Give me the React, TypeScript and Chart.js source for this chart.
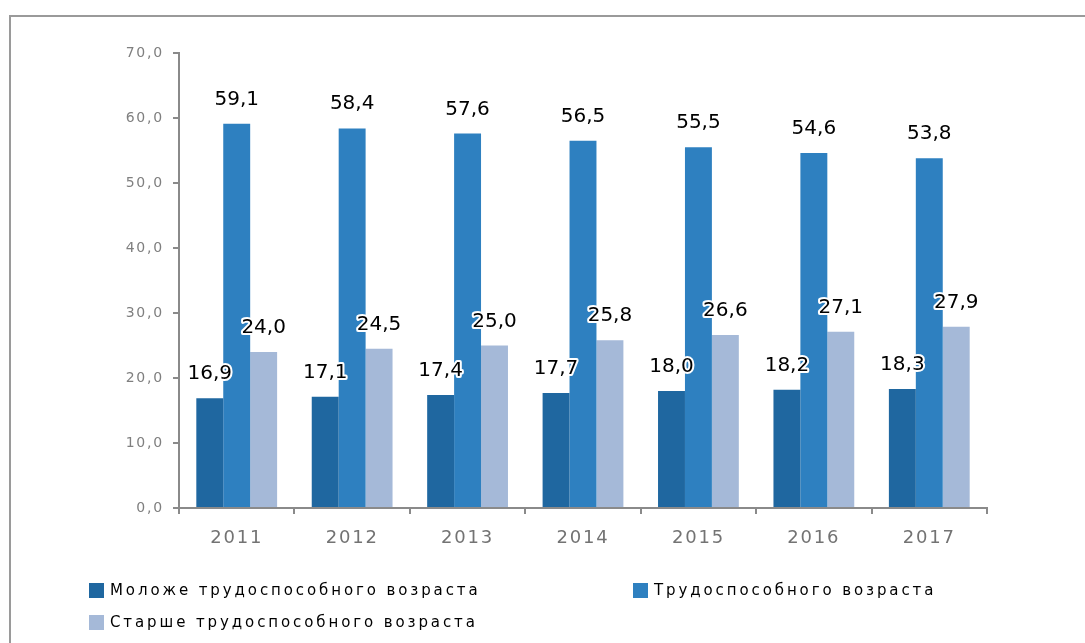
import React, { useEffect, useRef } from "react";
import { Chart, registerables } from "chart.js";

Chart.register(...registerables);

const categories = ["2011", "2012", "2013", "2014", "2015", "2016", "2017"];
const seriesNames = [
  "Моложе трудоспособного возраста",
  "Трудоспособного возраста",
  "Старше трудоспособного возраста",
];
const youngerValues = [16.9, 17.1, 17.4, 17.7, 18.0, 18.2, 18.3];
const workingValues = [59.1, 58.4, 57.6, 56.5, 55.5, 54.6, 53.8];
const olderValues = [24.0, 24.5, 25.0, 25.8, 26.6, 27.1, 27.9];
const seriesColors = ["#1f67a0", "#2e80c0", "#a5b9d8"];

const fmt = (v: number) => v.toFixed(1).replace(".", ",");

const framePlugin = {
  id: "frame",
  beforeDraw(chart: any) {
    const ctx = chart.ctx;
    ctx.save();
    ctx.fillStyle = "#ffffff";
    ctx.fillRect(0, 0, chart.width, chart.height);
    ctx.strokeStyle = "#9a9a9a";
    ctx.lineWidth = 2;
    ctx.beginPath();
    ctx.moveTo(10, chart.height + 5);
    ctx.lineTo(10, 16);
    ctx.lineTo(chart.width + 5, 16);
    ctx.stroke();
    ctx.restore();
    (ctx as any).letterSpacing = "1.8px";
  },
  afterDraw(chart: any) {
    const ctx = chart.ctx;
    (ctx as any).letterSpacing = "0px";
  },
};

const labelsPlugin = {
  id: "valueLabels",
  afterDatasetsDraw(chart: any) {
    const ctx = chart.ctx;
    ctx.save();
    (ctx as any).letterSpacing = "0px";
    ctx.font = "20px 'DejaVu Sans'";
    ctx.textAlign = "center";
    ctx.textBaseline = "alphabetic";
    chart.data.datasets.forEach((ds: any, di: number) => {
      const meta = chart.getDatasetMeta(di);
      meta.data.forEach((bar: any, i: number) => {
        const txt = fmt(ds.data[i]);
        const y = bar.y - 19;
        ctx.lineWidth = 4;
        ctx.strokeStyle = "#ffffff";
        ctx.lineJoin = "round";
        ctx.strokeText(txt, bar.x, y);
        ctx.fillStyle = "#000000";
        ctx.fillText(txt, bar.x, y);
      });
    });
    ctx.restore();
  },
  afterDraw(chart: any) {
    const ctx = chart.ctx;
    ctx.save();
    (ctx as any).letterSpacing = "2.9px";
    ctx.font = "15px 'DejaVu Sans'";
    ctx.textBaseline = "middle";
    ctx.textAlign = "left";
    const slots = [
      [89, 591],
      [633, 591],
      [89, 623],
    ];
    chart.data.datasets.forEach((ds: any, di: number) => {
      const [x, y] = slots[di];
      ctx.fillStyle = ds.backgroundColor;
      ctx.fillRect(x, y - 8, 15, 15);
      ctx.fillStyle = "#000000";
      ctx.fillText(ds.label, x + 21, y);
    });
    ctx.restore();
  },
};

export default function App() {
  const ref = useRef<HTMLCanvasElement>(null);
  useEffect(() => {
    if (!ref.current) return;
    const chart = new Chart(ref.current, {
      type: "bar",
      data: {
        labels: categories,
        datasets: [
          { label: seriesNames[0], data: youngerValues, backgroundColor: seriesColors[0] },
          { label: seriesNames[1], data: workingValues, backgroundColor: seriesColors[1] },
          { label: seriesNames[2], data: olderValues, backgroundColor: seriesColors[2] },
        ],
      },
      options: {
        responsive: false,
        animation: false,
        events: [],
        layout: { padding: { top: 53, right: 98, bottom: 0, left: 0 } },
        datasets: { bar: { categoryPercentage: 0.7, barPercentage: 1.0 } },
        plugins: { legend: { display: false }, tooltip: { enabled: false } },
        scales: {
          x: {
            grid: {
              offset: true,
              drawOnChartArea: false,
              drawTicks: true,
              tickLength: 6,
              color: "#8a8a8a",
              lineWidth: 2,
            },
            border: { color: "#8a8a8a", width: 2 },
            ticks: {
              color: "#737373",
              font: { family: "'DejaVu Sans'", size: 18 },
              padding: 14,
              maxRotation: 0,
            },
            afterFit: (s: any) => {
              s.height = 135;
            },
          },
          y: {
            min: 0,
            max: 70,
            grid: {
              drawOnChartArea: false,
              drawTicks: true,
              tickLength: 6,
              color: "#8a8a8a",
              lineWidth: 2,
            },
            border: { color: "#8a8a8a", width: 2 },
            ticks: {
              stepSize: 10,
              color: "#7f7f7f",
              font: { family: "'DejaVu Sans'", size: 14 },
              padding: 9,
              callback: (v: any) => fmt(Number(v)),
            },
            afterFit: (s: any) => {
              s.width = 179;
            },
          },
        },
      },
      plugins: [framePlugin, labelsPlugin],
    });
    return () => chart.destroy();
  }, []);
  return (
    <div style={{ position: "absolute", left: 0, top: 0, width: 1085, height: 643 }}>
      <canvas ref={ref} width={1085} height={643} style={{ display: "block" }} />
    </div>
  );
}
